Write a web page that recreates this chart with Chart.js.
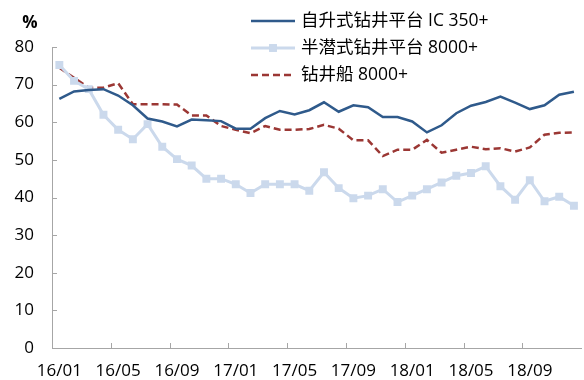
<!DOCTYPE html>
<html>
<head>
<meta charset="utf-8">
<script src="https://cdn.jsdelivr.net/npm/chart.js@4.4.0/dist/chart.umd.min.js"></script>
<style>
  html, body { margin: 0; padding: 0; background: #fff; overflow: hidden; }
  #wrap { width: 587px; height: 380px; }
</style>
</head>
<body>
<div id="wrap"><canvas id="rigChart" width="587" height="380"></canvas></div>
<script>
const months = [
  '16/01', '16/02', '16/03', '16/04', '16/05', '16/06', '16/07', '16/08', '16/09', '16/10', '16/11', '16/12',
  '17/01', '17/02', '17/03', '17/04', '17/05', '17/06', '17/07', '17/08', '17/09', '17/10', '17/11', '17/12',
  '18/01', '18/02', '18/03', '18/04', '18/05', '18/06', '18/07', '18/08', '18/09', '18/10', '18/11', '18/12'
];

// 利用率 %
const jackupIC350 = [
  66.2, 68.2, 68.6, 68.8, 67.1, 64.5, 61.0, 60.2, 58.9, 60.7, 60.5, 60.3,
  58.3, 58.3, 61.1, 63.0, 62.1, 63.2, 65.3, 62.8, 64.5, 64.0, 61.4, 61.4,
  60.2, 57.3, 59.2, 62.4, 64.4, 65.4, 66.8, 65.2, 63.5, 64.5, 67.3, 68.1
];
const semiSub8000 = [
  75.2, 71.0, 68.8, 62.0, 58.0, 55.5, 59.5, 53.5, 50.2, 48.5, 45.0, 45.0,
  43.5, 41.2, 43.5, 43.5, 43.5, 41.8, 46.7, 42.5, 39.8, 40.5, 42.2, 38.8,
  40.5, 42.2, 44.0, 45.8, 46.5, 48.3, 43.0, 39.4, 44.6, 39.0, 40.2, 37.8
];
const drillship8000 = [
  74.5, 71.8, 69.2, 69.2, 70.4, 64.8, 64.8, 64.8, 64.7, 61.8, 61.8, 59.0,
  58.0, 57.1, 59.0, 58.0, 58.0, 58.2, 59.3, 58.3, 55.2, 55.2, 51.0, 52.7,
  52.7, 55.3, 51.9, 52.7, 53.5, 52.8, 53.1, 52.2, 53.3, 56.7, 57.2, 57.3
];

const yMin = 0, yMax = 80, yStep = 10;

const FONT = "'Open Sans', 'Noto Sans CJK SC', sans-serif";
const axisColor = '#a6a6a6';

// inner tick marks, unit label and legend
const decorations = {
  id: 'decorations',
  afterDraw(chart) {
    const { ctx, scales: { x, y } } = chart;
    ctx.save();
    ctx.strokeStyle = axisColor;
    ctx.lineWidth = 1;
    ctx.beginPath();
    y.ticks.forEach(t => {
      const py = Math.round(y.getPixelForValue(t.value)) + 0.5;
      ctx.moveTo(x.left, py);
      ctx.lineTo(x.left + 5, py);
    });
    const half = (x.getPixelForValue(1) - x.getPixelForValue(0)) / 2;
    for (let i = 0; i < months.length; i += 4) {
      const px = Math.round(x.getPixelForValue(i) - half) + 0.5;
      ctx.moveTo(px, y.bottom);
      ctx.lineTo(px, y.bottom - 5);
    }
    ctx.stroke();

    ctx.fillStyle = '#000';
    ctx.font = 'bold 17px ' + FONT;
    ctx.textAlign = 'center';
    ctx.textBaseline = 'middle';
    ctx.fillText('%', 30, 23);

    // legend
    ctx.font = '17.5px ' + FONT;
    ctx.textAlign = 'left';
    chart.data.datasets.forEach((ds, i) => {
      const ly = 21 + i * 27;
      ctx.save();
      ctx.strokeStyle = ds.borderColor;
      ctx.lineWidth = ds.borderWidth;
      ctx.setLineDash(ds.borderDash || []);
      ctx.beginPath();
      ctx.moveTo(251, ly);
      ctx.lineTo(295, ly);
      ctx.stroke();
      if (ds.pointRadius) {
        const s = ds.pointRadius * Math.SQRT1_2;
        ctx.fillStyle = ds.pointBackgroundColor;
        ctx.fillRect(273 - s, ly - s, 2 * s, 2 * s);
      }
      ctx.restore();
      ctx.fillText(ds.label, 301, ly);
    });
    ctx.restore();
  }
};

new Chart(document.getElementById('rigChart'), {
  type: 'line',
  data: {
    labels: months,
    datasets: [
      {
        label: '自升式钻井平台 IC 350+',
        data: jackupIC350,
        borderColor: '#2f5a8b',
        borderWidth: 2.5,
        pointRadius: 0,
        tension: 0
      },
      {
        label: '半潜式钻井平台 8000+',
        data: semiSub8000,
        borderColor: '#cbd9ec',
        borderWidth: 3,
        pointStyle: 'rect',
        pointRadius: 5.6,
        pointBackgroundColor: '#cbd9ec',
        pointBorderWidth: 0,
        tension: 0
      },
      {
        label: '钻井船 8000+',
        data: drillship8000,
        borderColor: '#9b3734',
        borderWidth: 2.5,
        borderDash: [7, 4],
        pointRadius: 0,
        tension: 0
      }
    ]
  },
  options: {
    responsive: false,
    animation: false,
    layout: { padding: { top: 47, left: 0, right: 0, bottom: 0 } },
    plugins: {
      legend: { display: false },
      tooltip: { enabled: false }
    },
    scales: {
      x: {
        type: 'category',
        offset: true,
        grid: { display: false, drawTicks: false },
        border: { display: true, color: axisColor, width: 1 },
        ticks: {
          autoSkip: false,
          maxRotation: 0,
          padding: 13,
          color: '#000',
          font: { family: FONT, size: 17 },
          callback: (v, i) => (i % 4 === 0 ? months[i] : '')
        },
        afterFit: s => { s.height = 32; }
      },
      y: {
        min: yMin,
        max: yMax,
        grid: { display: false, drawTicks: false },
        border: { display: true, color: axisColor, width: 1 },
        ticks: {
          stepSize: yStep,
          padding: 18,
          color: '#000',
          font: { family: FONT, size: 17 }
        },
        afterFit: s => { s.width = 52; }
      }
    }
  },
  plugins: [decorations]
});
</script>
</body>
</html>
